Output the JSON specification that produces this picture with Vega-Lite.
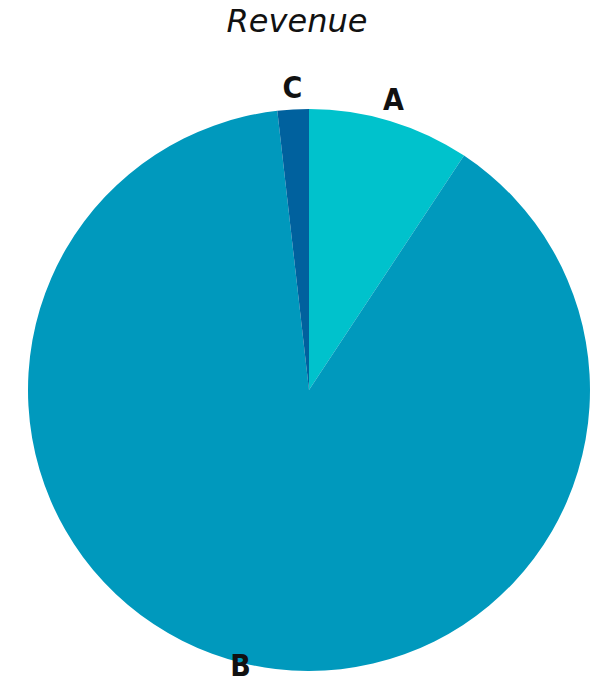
{
  "$schema": "https://vega.github.io/schema/vega-lite/v6.json",
  "width": 602,
  "height": 678,
  "padding": {"left": 8, "top": 6, "right": 0, "bottom": 0},
  "background": "white",
  "title": {
    "text": "Revenue",
    "fontSize": 32,
    "font": "DejaVu Sans",
    "fontStyle": "italic",
    "fontWeight": "normal",
    "color": "#111111",
    "anchor": "middle",
    "dx": -12,
    "offset": 12
  },
  "view": {"stroke": null},
  "data": {
    "values": [
      {"segment": "A", "value": 9.3},
      {"segment": "B", "value": 88.9},
      {"segment": "C", "value": 1.8}
    ]
  },
  "encoding": {
    "theta": {"field": "value", "type": "quantitative", "stack": true},
    "order": {"field": "segment", "type": "nominal", "sort": "ascending"}
  },
  "layer": [
    {
      "mark": {"type": "arc", "outerRadius": 281, "stroke": null},
      "encoding": {
        "color": {
          "field": "segment",
          "type": "nominal",
          "scale": {"domain": ["A", "B", "C"], "range": ["#00C2CC", "#0099BD", "#00619E"]},
          "legend": null
        }
      }
    },
    {
      "mark": {"type": "text", "radius": 293, "dy": -8, "font": "DejaVu Sans Condensed", "fontWeight": "bold", "fontSize": 30, "color": "#111111"},
      "encoding": {"text": {"field": "segment", "type": "nominal"}}
    }
  ]
}
